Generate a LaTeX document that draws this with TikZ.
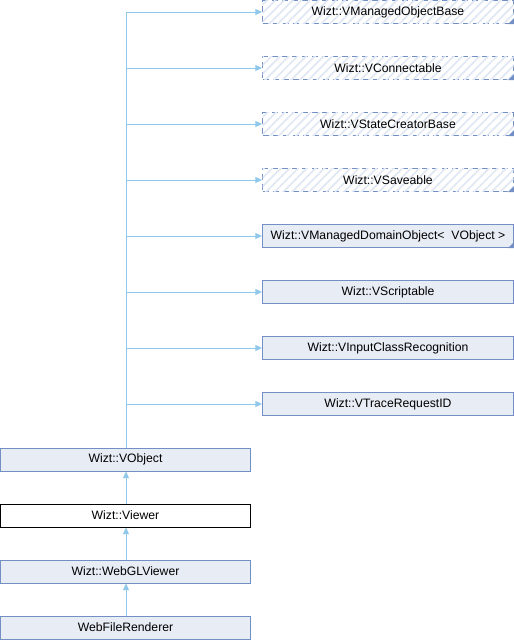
\documentclass[tikz,border=0pt]{standalone}
\usepackage{fontspec}
\setmainfont{Liberation Sans}
\usetikzlibrary{arrows.meta,patterns.meta}
\definecolor{boxfill}{HTML}{E8ECF5}
\definecolor{boxline}{HTML}{7290C6}
\definecolor{edgecol}{HTML}{8FC8EA}
\definecolor{hatchcol}{HTML}{E2E8F3}
\tikzset{
  cls/.style={draw=boxline, fill=boxfill, line width=0.75pt, minimum height=17.25pt,
    inner sep=0pt, font=\fontsize{9.15pt}{11pt}\selectfont},
  rcls/.style={cls, minimum width=188.25pt},
  lcls/.style={cls, minimum width=187.5pt},
  hatched/.style={rcls, fill=white, dash pattern=on 4.5pt off 3pt,
    postaction={pattern={Lines[angle=45,distance=4.6pt,line width=1.3pt]}, pattern color=hatchcol}},
  edge/.style={draw=edgecol, line width=0.75pt, -{Triangle[length=5pt,width=4.5pt]}},
  trunk/.style={draw=edgecol, line width=0.75pt},
}
\newcommand{\corner}[1]{\fill[boxline] (#1.south east) -- ++(-4.5pt,0) -- ++(4.5pt,4.5pt) -- cycle;}
\begin{document}
\begin{tikzpicture}[x=0.75pt,y=-0.75pt]
\useasboundingbox (0,0) rectangle (514,640);
% right column
\node[hatched] (a) at (388,12) {Wizt::VManagedObjectBase};
\node[hatched] (b) at (388,68) {Wizt::VConnectable};
\node[hatched] (c) at (388,124) {Wizt::VStateCreatorBase};
\node[hatched] (d) at (388,180) {Wizt::VSaveable};
\node[rcls] (e) at (388,236) {Wizt::VManagedDomainObject<~ VObject >};
\node[rcls] (f) at (388,292) {Wizt::VScriptable};
\node[rcls] (g) at (388,348) {Wizt::VInputClassRecognition};
\node[rcls] (h) at (388,404) {Wizt::VTraceRequestID};
\corner{a}\corner{b}\corner{c}\corner{d}\corner{e}
% left column
\node[lcls] (vo) at (125.5,459.5) {Wizt::VObject};
\node[lcls, fill=white, draw=black] (vw) at (125.5,515.5) {Wizt::Viewer};
\node[lcls] (gl) at (125.5,571.5) {Wizt::WebGLViewer};
\node[lcls] (wf) at (125.5,627.5) {WebFileRenderer};
% trunk
\coordinate (top) at (126,12);
\draw[trunk] (vo.north -| top) -- (top);
\foreach \n in {a,b,c,d,e,f,g,h}{
  \draw[edge] (top |- \n.west) -- (\n.west);
}
\draw[edge] (vw.north -| top) -- (vo.south -| top);
\draw[edge] (gl.north -| top) -- (vw.south -| top);
\draw[edge] (wf.north -| top) -- (gl.south -| top);
\end{tikzpicture}
\end{document}
